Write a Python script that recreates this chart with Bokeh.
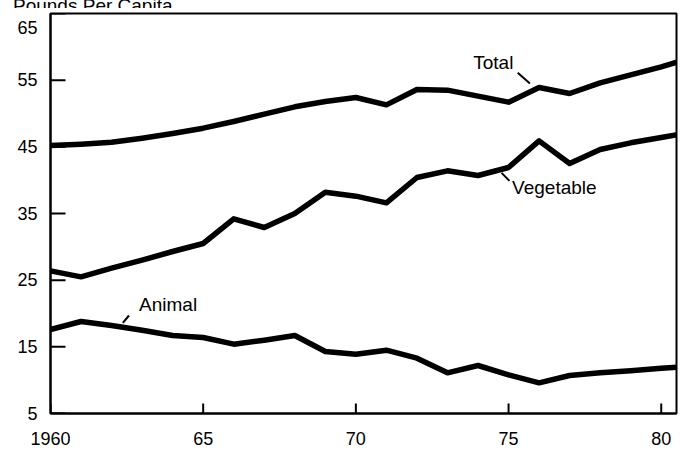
import math
from bokeh.plotting import figure
from bokeh.models import FixedTicker, Label, Div
from bokeh.layouts import column
from bokeh.embed import file_html
from bokeh.resources import INLINE

years = list(range(1960, 1982))
total = [45.2, 45.4, 45.7, 46.3, 47.0, 47.8, 48.8, 49.9, 51.0, 51.8, 52.4,
         51.3, 53.6, 53.5, 52.6, 51.7, 53.9, 53.0, 54.6, 55.8, 57.0, 58.4]
vegetable = [26.4, 25.5, 26.8, 28.0, 29.3, 30.5, 34.2, 32.9, 35.0, 38.2, 37.6,
             36.6, 40.4, 41.4, 40.7, 41.9, 45.9, 42.5, 44.6, 45.6, 46.4, 47.2]
animal = [17.6, 18.8, 18.2, 17.5, 16.7, 16.4, 15.4, 16.0, 16.7, 14.3, 13.9,
          14.5, 13.3, 11.1, 12.2, 10.8, 9.6, 10.7, 11.1, 11.4, 11.8, 12.1]

x_ticks = [1960, 1965, 1970, 1975, 1980]
x_tick_labels = ["1960", "65", "70", "75", "80"]
y_ticks = [5, 15, 25, 35, 45, 55, 65]
y_tick_labels = ["5", "15", "25", "35", "45", "55", "\n65"]

series_names = ["Total", "Vegetable", "Animal"]
name_pos = [(1974.5, 57.6), (1976.5, 38.9), (1963.85, 21.3)]
leaders = [((1975.3, 56.1), (1975.7, 54.5)),
           ((1974.77, 41.1), (1975.03, 39.9)),
           ((1962.57, 19.7), (1962.37, 18.6))]

unit_title = "Pounds Per Capita"
FONT = "Liberation Sans"

p = figure(width=683, height=444, output_backend="svg", toolbar_location=None,
           x_range=(1960, 1980.5), y_range=(5, 65),
           min_border_left=50, min_border_right=7, min_border_top=5,
           min_border_bottom=39, margin=0)
p.background_fill_color = "white"
p.border_fill_color = "white"
p.outline_line_color = "black"
p.outline_line_width = 2
p.xgrid.visible = False
p.ygrid.visible = False

for ys in (total, vegetable, animal):
    p.line(years, ys, line_color="black", line_width=5.5, line_join="round")

for (a, b) in leaders:
    p.segment(x0=[a[0]], y0=[a[1]], x1=[b[0]], y1=[b[1]], line_color="black", line_width=2)

for name, (lx, ly) in zip(series_names, name_pos):
    p.add_layout(Label(x=lx, y=ly, text=name, text_align="center", text_baseline="middle",
                       text_font=FONT, text_font_size="19px", text_color="black"))

# inward tick marks (half of each dash is clipped by the frame)
p.scatter(x=[1960] * len(y_ticks), y=y_ticks, marker="dash", size=30,
          line_color="black", line_width=2)
p.scatter(x=x_ticks, y=[5] * len(x_ticks), marker="dash", size=20, angle=math.pi / 2,
          line_color="black", line_width=2)

xa = p.xaxis[0]
xa.ticker = FixedTicker(ticks=x_ticks)
xa.major_label_overrides = {t: s for t, s in zip(x_ticks, x_tick_labels)}
xa.major_tick_in = 0
xa.major_tick_out = 0
xa.minor_tick_line_color = None
xa.axis_line_width = 2
xa.major_label_standoff = 18
xa.major_label_text_font = FONT
xa.major_label_text_font_size = "18px"
xa.major_label_text_color = "black"

ya = p.yaxis[0]
ya.ticker = FixedTicker(ticks=y_ticks)
ya.major_label_overrides = {t: s for t, s in zip(y_ticks, y_tick_labels)}
ya.major_tick_in = 0
ya.major_tick_out = 0
ya.minor_tick_line_color = None
ya.axis_line_width = 2
ya.major_label_standoff = 13
ya.major_label_text_font = FONT
ya.major_label_text_font_size = "18px"
ya.major_label_text_line_height = 0.45
ya.major_label_text_color = "black"

# unit title, cut off at the top edge as in the scanned original
title_div = Div(
    text=('<div style="margin:-13px 0 0 13px; font-family:\'Liberation Sans\'; '
          'font-size:19px; line-height:19px; white-space:nowrap; color:black;">'
          + unit_title + '</div>'),
    width=683, height=8, margin=0, styles={"overflow": "hidden"})

layout = column(title_div, p, spacing=0, margin=0)
open("out.html", "w").write(file_html(layout, INLINE))
